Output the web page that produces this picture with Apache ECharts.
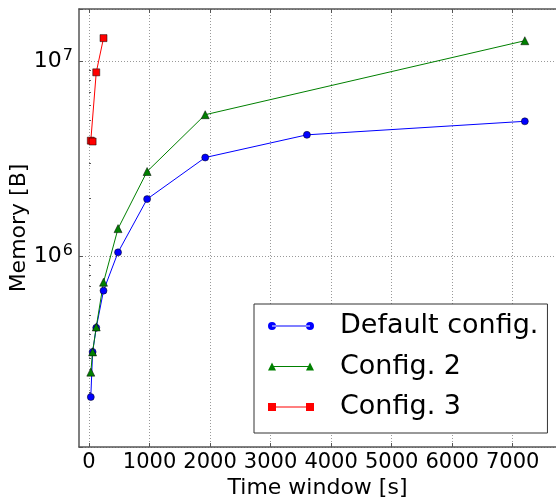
<!DOCTYPE html>
<html>
<head>
<meta charset="utf-8">
<script src="https://cdn.jsdelivr.net/npm/echarts@6/dist/echarts.min.js"></script>
<style>
  html, body { margin: 0; padding: 0; background: #fff; }
  #chart { width: 556px; height: 501px; }
</style>
</head>
<body>
<div id="chart"></div>
<script>
  // values
  var seriesNames = ['Default config.', 'Config. 2', 'Config. 3']
  var defaultTime = [30, 60, 120, 240, 480, 960, 1920, 3600, 7200]
  var defaultMem = [1.9e5, 3.24e5, 4.31e5, 6.68e5, 1.05e6, 1.97e6, 3.22e6, 4.21e6, 4.94e6]
  var config2Time = [30, 60, 120, 240, 480, 960, 1920, 7200]
  var config2Mem = [2.55e5, 3.24e5, 4.35e5, 7.38e5, 1.39e6, 2.73e6, 5.34e6, 1.28e7]
  var config3Time = [30, 60, 120, 240]
  var config3Mem = [3.93e6, 3.89e6, 8.81e6, 1.32e7]
  var xMajorTicks = [0, 1000, 2000, 3000, 4000, 5000, 6000, 7000]
  var yMinorTicks = [2e5, 3e5, 4e5, 5e5, 6e5, 7e5, 8e5, 9e5, 2e6, 3e6, 4e6, 5e6, 6e6, 7e6, 8e6, 9e6]

  var font = 'DejaVu Sans'
  var frame = '#555'
  var xMin = -165, xMax = 7715
  var yMin = 1.053e5, yMax = 1.862e7

  function pairs(xs, ys) {
    var out = []
    for (var i = 0; i < xs.length; i++) out.push([xs[i], ys[i]])
    return out
  }

  // legend samples: line with a marker at both ends (like matplotlib)
  var bar = ' M4,3.5 L42,3.5 L42,4.5 L4,4.5 Z'
  var icons = [
    'path://M0,4 A4,4 0 1,0 8,4 A4,4 0 1,0 0,4 Z M38,4 A4,4 0 1,0 46,4 A4,4 0 1,0 38,4 Z' + bar,
    'path://M0,8 L4,0 L8,8 Z M38,8 L42,0 L46,8 Z' + bar,
    'path://M0,0 L8,0 L8,8 L0,8 Z M38,0 L46,0 L46,8 L38,8 Z' + bar
  ]

  var chart = echarts.init(document.getElementById('chart'))

  var option = {
    animation: false,
    backgroundColor: '#fff',
    textStyle: { fontFamily: font, color: '#000' },
    grid: { left: 79, top: 9, right: 0, bottom: 54, containLabel: false, outerBoundsMode: 'none' },
    legend: {
      orient: 'vertical',
      left: 254,
      top: 304,
      padding: [7, 9, 11, 14],
      itemGap: 10.5,
      itemWidth: 46,
      itemHeight: 8,
      backgroundColor: '#fff',
      borderColor: '#333',
      borderWidth: 1,
      borderRadius: 0,
      itemStyle: { borderWidth: 0 },
      textStyle: { fontFamily: font, fontSize: 27, color: '#000', lineHeight: 30, padding: [0, 0, 0, 21] },
      data: [
        { name: seriesNames[0], icon: icons[0] },
        { name: seriesNames[1], icon: icons[1] },
        { name: seriesNames[2], icon: icons[2] }
      ]
    },
    xAxis: [{
      type: 'value',
      min: xMin,
      max: xMax,
      splitNumber: 8,
      name: 'Time window [s]',
      nameLocation: 'middle',
      nameGap: 30,
      nameMoveOverlap: false,
      nameTextStyle: { fontFamily: font, fontSize: 22, color: '#000' },
      axisLine: { show: true, onZero: false, lineStyle: { color: frame, width: 1.5 } },
      axisTick: { show: true, inside: true, length: 4, customValues: xMajorTicks, lineStyle: { color: frame } },
      axisLabel: {
        margin: 5, fontFamily: font, fontSize: 21, color: '#000',
        customValues: xMajorTicks,
        formatter: function (v) { return String(v) }
      },
      splitLine: { show: true, lineStyle: { color: '#999', width: 1, type: [1, 2] } }
    }, {
      type: 'value',
      position: 'top',
      min: xMin,
      max: xMax,
      axisLine: { show: true, onZero: false, lineStyle: { color: frame, width: 1.5 } },
      axisTick: { show: true, inside: true, length: 4, customValues: xMajorTicks, lineStyle: { color: frame } },
      axisLabel: { show: false },
      splitLine: { show: false }
    }],
    yAxis: [{
      type: 'log',
      logBase: 10,
      min: yMin,
      max: yMax,
      name: 'Memory [B]',
      nameLocation: 'middle',
      nameGap: 49,
      nameMoveOverlap: false,
      nameTextStyle: { fontFamily: font, fontSize: 22, color: '#000' },
      axisLine: { show: true, onZero: false, lineStyle: { color: frame, width: 1.5 } },
      axisTick: { show: true, inside: true, length: 4, lineStyle: { color: frame } },
      axisLabel: {
        margin: 6,
        formatter: function (v) {
          var e = Math.round(Math.log10(v))
          if (Math.abs(v - Math.pow(10, e)) / v > 1e-6) return ''
          return '{b|10}{e|' + e + '}'
        },
        rich: {
          b: { fontFamily: font, fontSize: 22, color: '#000' },
          e: { fontFamily: font, fontSize: 16, color: '#000', padding: [0, 0, 11, 1] }
        }
      },
      splitLine: { show: true, lineStyle: { color: '#999', width: 1, type: [1, 2] } }
    }, {
      type: 'log',
      logBase: 10,
      min: yMin,
      max: yMax,
      position: 'left',
      axisLine: { show: false },
      axisTick: { show: true, inside: true, length: 2, customValues: yMinorTicks, lineStyle: { color: frame } },
      axisLabel: { show: false },
      splitLine: { show: false }
    }],
    series: [{
      name: seriesNames[0],
      type: 'line',
      data: pairs(defaultTime, defaultMem),
      symbol: 'circle',
      symbolSize: 7,
      lineStyle: { color: '#0000ff', width: 1 },
      itemStyle: { color: '#0000ff', borderColor: '#000', borderWidth: 0.5 }
    }, {
      name: seriesNames[1],
      type: 'line',
      data: pairs(config2Time, config2Mem),
      symbol: 'triangle',
      symbolSize: 8,
      lineStyle: { color: '#008000', width: 1 },
      itemStyle: { color: '#008000', borderColor: '#000', borderWidth: 0.5 }
    }, {
      name: seriesNames[2],
      type: 'line',
      data: pairs(config3Time, config3Mem),
      symbol: 'rect',
      symbolSize: 7,
      lineStyle: { color: '#ff0000', width: 1 },
      itemStyle: { color: '#ff0000', borderColor: '#000', borderWidth: 0.5 }
    }]
  }

  chart.setOption(option)
</script>
</body>
</html>
